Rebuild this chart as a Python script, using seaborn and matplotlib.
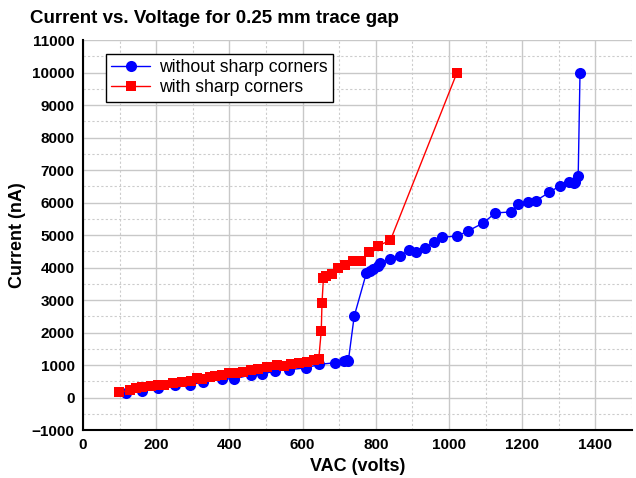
import numpy as np
import matplotlib
matplotlib.use("Agg")
import matplotlib.pyplot as plt
import seaborn as sns
from matplotlib.ticker import MultipleLocator

# data
vac_smooth = [118, 160, 206, 252, 293, 329, 379, 413, 459, 489, 525, 564, 609, 646,
              689, 712, 721, 725, 741, 774, 785, 793, 805, 812, 840, 867, 890, 910,
              935, 958, 982, 1023, 1051, 1092, 1127, 1170, 1188, 1216, 1238, 1274,
              1302, 1327, 1341, 1345, 1353, 1358]
cur_smooth = [150, 190, 280, 370, 400, 470, 580, 570, 700, 715, 820, 860, 910, 1020,
              1070, 1120, 1150, 1130, 2500, 3820, 3890, 3950, 4040, 4150, 4250, 4350,
              4530, 4470, 4610, 4770, 4930, 4970, 5120, 5360, 5680, 5710, 5950, 6010,
              6060, 6310, 6510, 6630, 6590, 6640, 6810, 10000]

vac_sharp = [99, 129, 145, 162, 185, 206, 221, 245, 270, 294, 312, 326, 347, 361, 379,
             400, 418, 438, 459, 479, 502, 529, 548, 568, 589, 612, 630, 644, 651, 653,
             657, 665, 680, 698, 715, 737, 759, 781, 805, 840, 1022]
cur_sharp = [160, 220, 280, 320, 350, 375, 400, 435, 480, 520, 585, 570, 630, 660, 700,
             740, 760, 780, 845, 890, 930, 990, 970, 1030, 1070, 1100, 1150, 1170, 2050,
             2910, 3690, 3750, 3800, 4000, 4070, 4200, 4210, 4470, 4660, 4840, 10000]

sns.set_style("white")
plt.rcParams['font.family'] = ['Liberation Sans', 'DejaVu Sans']
plt.rcParams['text.color'] = 'black'
plt.rcParams['axes.labelcolor'] = 'black'
plt.rcParams['xtick.color'] = 'black'
plt.rcParams['ytick.color'] = 'black'

fig = plt.figure(figsize=(6.36, 4.78), dpi=100)
ax = fig.add_axes([0.1305, 0.1004, 0.8632, 0.8159])

sns.lineplot(x=vac_smooth, y=cur_smooth, ax=ax, sort=False, estimator=None,
             color='#0000ff', marker='o', markersize=8, markeredgewidth=0,
             linewidth=1, label='without sharp corners')
sns.lineplot(x=vac_sharp, y=cur_sharp, ax=ax, sort=False, estimator=None,
             color='#ff0000', marker='s', markersize=7, markeredgewidth=0,
             linewidth=1, label='with sharp corners')

ax.set_xlim(0, 1500)
ax.set_ylim(-1000, 11000)
ax.xaxis.set_major_locator(MultipleLocator(200))
ax.xaxis.set_minor_locator(MultipleLocator(100))
ax.yaxis.set_major_locator(MultipleLocator(1000))
ax.yaxis.set_minor_locator(MultipleLocator(500))
ax.set_xticks(np.arange(0, 1401, 200))

ax.grid(which='major', color='#c8c8c8', linewidth=1, linestyle='-')
ax.grid(which='minor', color='#cccccc', linewidth=0.8, linestyle=(0, (2, 2)))
ax.set_axisbelow(True)

for side in ['top', 'right']:
    ax.spines[side].set_visible(False)
for side in ['left', 'bottom']:
    ax.spines[side].set_color('black')
    ax.spines[side].set_linewidth(1.5)

ax.tick_params(which='major', direction='in', length=5, width=1.2, color='black',
               labelcolor='black', labelsize=11, pad=6)
ax.tick_params(which='minor', direction='in', length=3, width=1, color='black')
ax.tick_params(axis='x', which='both', length=3)
for lab in ax.get_xticklabels() + ax.get_yticklabels():
    lab.set_fontweight('bold')

ax.set_xlabel('VAC (volts)', fontsize=13, fontweight='bold', color='black')
ax.set_ylabel('Current (nA)', fontsize=13, fontweight='bold', color='black')

fig.text(0.047, 0.962, 'Current vs. Voltage for 0.25 mm trace gap',
         fontsize=13.5, fontweight='bold', va='center', ha='left', color='black')

leg = ax.legend(loc='upper left', bbox_to_anchor=(0.042, 0.965), fontsize=12.7,
                frameon=True, fancybox=False, framealpha=1, edgecolor='black',
                borderaxespad=0, handlelength=2.2, borderpad=0.3, labelspacing=0.2,
                handletextpad=0.5)
leg.get_frame().set_linewidth(1)
for t in leg.get_texts():
    t.set_color('black')

fig.savefig('out.png', dpi=100)
